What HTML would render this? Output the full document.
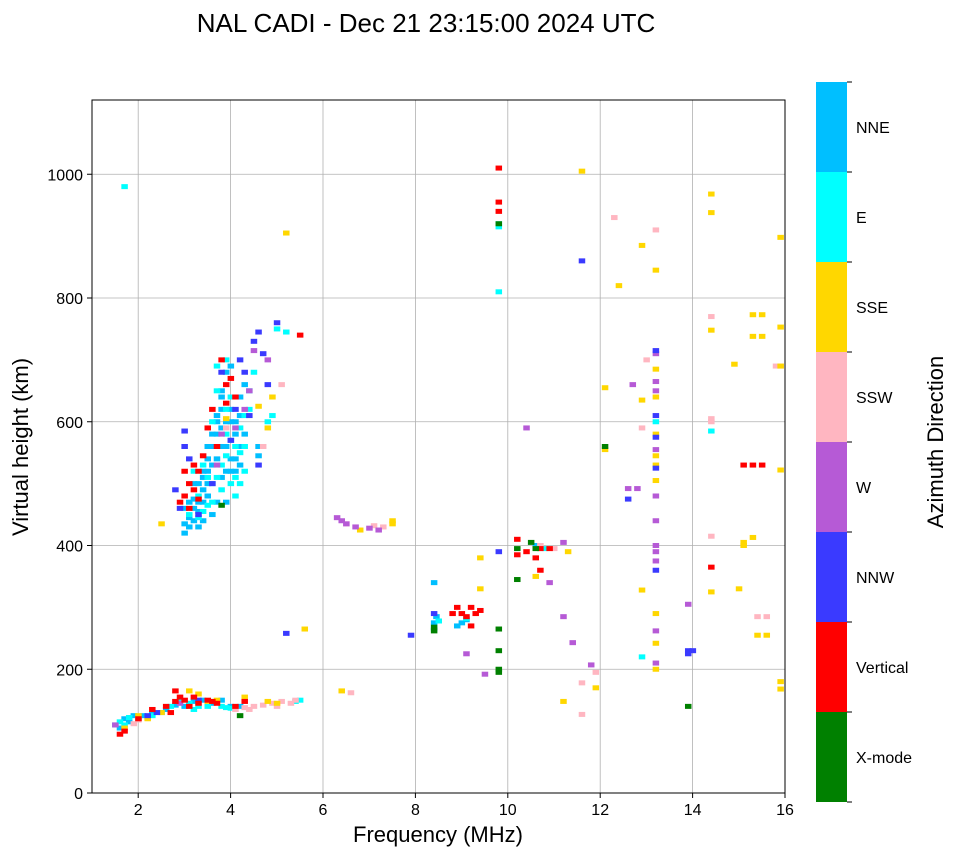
<!DOCTYPE html>
<html><head><meta charset="utf-8"><style>
body{margin:0;background:#fff}
svg text{font-family:"Liberation Sans","DejaVu Sans",sans-serif}
</style></head><body>
<svg id="c" width="958" height="857" xmlns="http://www.w3.org/2000/svg">
<text x="426" y="32" font-size="26" text-anchor="middle">NAL CADI - Dec 21 23:15:00 2024 UTC</text>
<g id="grid"></g>
<g id="marks"></g>
<rect x="92" y="100" width="693" height="693" fill="none" stroke="#000" stroke-width="1"/>
<g id="axes"></g>
<text x="438" y="842" font-size="22" text-anchor="middle">Frequency (MHz)</text>
<text transform="translate(28,447) rotate(-90)" font-size="22" text-anchor="middle">Virtual height (km)</text>
<g id="cbar"></g>
<text transform="translate(943,442) rotate(-90)" font-size="22" text-anchor="middle">Azimuth Direction</text>
</svg>
<script>
const xTicks=[2,4,6,8,10,12,14,16];
const yTicks=[0,200,400,600,800,1000];
const dirLabels=["X-mode","Vertical","NNW","W","SSW","SSE","E","NNE"];
const dirColors=["#008000","#ff0000","#3a3aff","#b65ad6","#ffb6c1","#ffd700","#00ffff","#00bfff"];
const nneF=[3.0,3.1,3.1,3.2,3.2,3.3,3.3,3.4,3.4,3.5,3.5,3.6,3.6,3.7,3.7,3.8,3.8,3.9,3.9,4.0,4.0,4.1,4.1,4.2,4.2,4.3,4.6,4.6,3.0,3.2,3.4,3.6,3.8,3.9,4.0,3.3,3.5,3.7,1.5,1.7,1.9,2.1,2.3,2.5,3.0,3.4,4.2,8.4,8.4,8.45,8.9,9.0,9.1,8.4,10.6,3.0,3.1,3.2,3.3,3.4,3.5,3.5,3.6,3.7,3.7,3.8,3.8,3.9,4.0,4.0,4.1,4.1,4.2,4.2,3.6,3.4,3.9,4.0,4.3,3.8,1.6,1.8,2.0,2.2,2.6,2.8,3.2,3.6,3.8,4.0];
const nneH=[420,430,445,460,440,470,455,490,510,520,540,560,500,580,610,620,650,680,600,540,570,520,600,530,640,660,545,560,460,500,470,530,560,520,690,430,480,470,110,120,125,125,128,130,140,150,140,265,275,285,270,275,280,340,400,435,470,475,500,520,500,560,580,540,600,590,640,560,600,620,540,580,560,610,450,440,470,520,580,510,105,115,120,122,135,142,148,145,150,140];
const eF=[3.1,3.3,3.5,3.6,3.8,3.9,4.0,4.1,4.2,4.3,4.4,4.8,4.9,3.7,3.9,4.3,3.4,3.8,4.1,4.5,5.0,5.2,1.6,1.8,2.9,3.1,3.3,3.6,3.8,4.0,5.5,1.7,9.8,9.8,9.8,10.8,13.2,12.9,14.4,8.5,9.1,3.2,3.4,3.5,3.6,3.7,3.9,4.0,4.1,4.2,4.3,4.4,3.3,3.7,3.9,4.2,1.7,2.3,2.7,3.2,3.5,3.9,5.4];
const eH=[450,480,510,470,530,545,500,560,590,610,650,600,610,690,700,520,455,490,480,680,750,745,115,122,150,145,140,148,140,137,150,980,915,920,810,395,600,220,585,278,282,520,530,465,600,510,580,640,510,550,560,620,445,650,620,500,110,125,140,135,140,138,148];
const vF=[2.9,3.0,3.1,3.2,3.2,3.3,3.4,3.5,3.6,3.7,3.9,3.9,4.0,4.1,3.1,3.3,5.5,3.0,3.8,1.6,1.7,2.0,2.3,2.6,2.7,2.8,2.9,3.0,3.1,3.3,3.5,3.6,3.7,4.1,4.3,2.8,3.2,9.8,9.8,9.8,8.9,9.0,9.1,9.2,9.3,9.4,8.8,9.2,10.2,10.2,10.4,10.7,10.9,10.6,10.7,14.4,15.1,15.3,15.5];
const vH=[470,480,500,490,530,520,545,590,620,560,660,630,670,640,460,475,740,520,700,95,100,120,135,140,130,148,155,150,140,145,150,148,145,140,148,165,155,1010,955,940,300,290,285,300,290,295,290,270,410,385,390,395,395,380,360,365,530,530,530];
const nF=[2.8,2.9,3.0,3.0,3.1,3.3,3.6,3.8,4.2,4.3,4.5,4.6,4.1,4.4,4.7,4.8,5.0,4.0,4.6,2.2,2.4,3.3,5.2,7.9,8.4,9.8,11.6,12.6,13.2,13.2,13.2,13.9,13.9,14.0,13.2,13.2];
const nH=[490,460,585,560,540,450,500,680,700,680,730,745,620,610,710,660,760,570,530,125,130,150,258,255,290,390,860,475,715,610,360,230,225,230,525,575];
const wF=[3.7,4.3,4.5,4.8,4.1,3.8,4.4,1.5,2.9,6.3,6.4,6.5,6.7,7.0,7.2,9.1,9.5,10.4,10.9,11.2,11.4,11.8,12.7,12.6,12.8,13.2,13.2,13.2,13.2,13.2,13.2,13.2,13.2,13.2,13.9,11.2,13.2,13.2];
const wH=[530,620,715,700,590,580,650,110,145,445,440,435,430,428,425,225,192,590,340,285,243,207,660,492,492,665,650,480,440,400,390,375,262,210,305,405,710,555];
const sF=[4.1,4.3,4.5,4.7,4.9,5.1,5.3,5.4,4.4,5.0,2.0,1.9,4.7,5.1,3.9,6.5,6.6,7.1,7.3,12.3,13.0,12.9,13.2,14.4,14.4,14.4,14.4,15.4,15.6,15.8,15.9,11.6,11.6,11.9,11.0,10.7];
const sH=[135,138,140,142,145,148,145,150,135,140,118,112,560,660,590,435,162,432,430,930,700,590,910,605,600,770,415,285,285,690,690,178,127,195,395,400];
const gF=[1.7,2.2,2.5,3.1,3.3,3.5,3.7,4.3,4.8,5.0,2.0,4.8,4.9,4.6,3.9,2.5,5.2,5.6,6.4,6.8,7.5,7.5,9.4,9.4,10.6,11.3,11.6,11.2,11.9,12.1,12.1,12.4,12.9,12.9,12.9,13.2,13.2,13.2,13.2,13.2,13.2,13.2,13.2,13.2,13.2,14.4,14.4,14.4,14.4,14.9,15.1,15.3,15.5,15.3,15.5,15.9,15.9,15.9,15.9,15.4,15.6,15.0,15.9,15.9,15.1,15.3];
const gH=[105,120,130,165,160,148,150,155,148,145,125,590,640,625,605,435,905,265,165,425,435,440,380,330,350,390,1005,148,170,655,555,820,885,635,328,845,685,640,580,545,530,505,290,242,200,968,938,748,325,693,405,773,773,738,738,753,898,522,690,255,255,330,180,168,400,413];
const xF=[9.8,9.8,9.8,9.8,9.8,10.2,10.5,10.6,10.2,13.9,3.8,4.2,8.4,8.4,12.1];
const xH=[920,265,230,200,195,395,405,395,345,140,465,125,262,268,560];
const series=[[xF,xH],[vF,vH],[nF,nH],[wF,wH],[sF,sH],[gF,gH],[eF,eH],[nneF,nneH]];
const drawOrder=[7,6,4,5,3,2,1,0];
const NS="http://www.w3.org/2000/svg";
const X=f=>92+(f-1)*693/15, Y=h=>793-h*693/1120;
function mk(t,a,p){const e=document.createElementNS(NS,t);for(const k in a)e.setAttribute(k,a[k]);p.appendChild(e);return e;}
const grid=document.getElementById('grid'),axes=document.getElementById('axes'),marks=document.getElementById('marks'),cbar=document.getElementById('cbar');
xTicks.forEach(v=>{
 const l=mk('line',{x1:X(v),x2:X(v),y1:100,y2:793,stroke:'#b0b0b0','stroke-width':0.8},grid);
 
 
 mk('line',{x1:X(v),x2:X(v),y1:793,y2:798,stroke:'#000'},axes);
 const t=mk('text',{x:X(v),y:815,'font-size':16,'text-anchor':'middle'},axes);t.textContent=v;
 
 
});
yTicks.forEach(v=>{
 const l=mk('line',{x1:92,x2:785,y1:Y(v),y2:Y(v),stroke:'#b0b0b0','stroke-width':0.8},grid);
 
 
 mk('line',{x1:87,x2:92,y1:Y(v),y2:Y(v),stroke:'#000'},axes);
 const t=mk('text',{x:83,y:Y(v)+6,'font-size':16,'text-anchor':'end'},axes);t.textContent=v;
 
 
});
drawOrder.forEach(d=>{
 const [fs,hs]=series[d];
 fs.forEach((f,i)=>{
  const r=mk('rect',{x:X(f)-3,y:Y(hs[i])-2.5,width:6.5,height:5,fill:dirColors[d]},marks);
  
  
 });
});
const segH=720/8;
dirLabels.forEach((lab,i)=>{
 const y0=802-(i+1)*segH;
 const r=mk('rect',{x:816,y:y0,width:31,height:segH,fill:dirColors[i]},cbar);
 
 
 mk('line',{x1:847,x2:852,y1:y0,y2:y0,stroke:'#000'},cbar);
 const t=mk('text',{x:856,y:y0+segH/2+6,'font-size':16},cbar);t.textContent=lab;
 
 
});
mk('line',{x1:847,x2:852,y1:802,y2:802,stroke:'#000'},cbar);
</script>
</body></html>
